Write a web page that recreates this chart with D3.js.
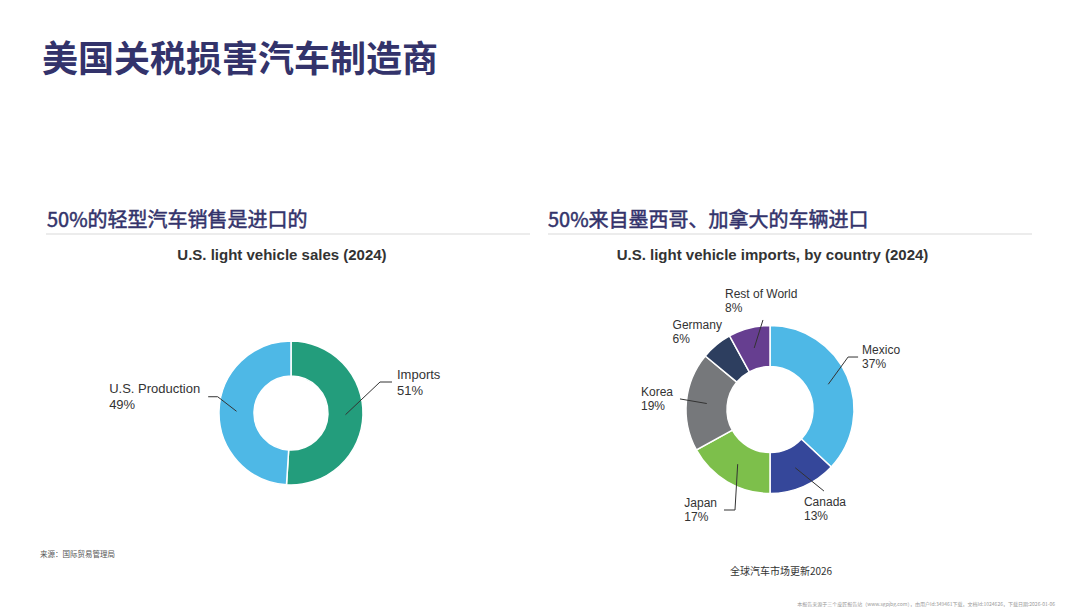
<!DOCTYPE html>
<html>
<head>
<meta charset="utf-8">
<script src="https://cdn.jsdelivr.net/npm/d3@7/dist/d3.min.js"></script>
<style>
  html, body { margin: 0; padding: 0; background: #fff; }
  svg { display: block; }
</style>
</head>
<body>
<svg id="chart" width="1080" height="607"></svg>
<script>
// ---------- data ----------
const salesCategories = ["Imports", "U.S. Production"];
const salesValues = [51, 49];
const salesColors = ["#239d7c", "#4eb8e6"];

const importCategories = ["Mexico", "Canada", "Japan", "Korea", "Germany", "Rest of World"];
const importValues = [37, 13, 17, 19, 6, 8];
const importColors = ["#4eb8e6", "#35479a", "#7dbf4b", "#76787b", "#2d3e5f", "#663e90"];

// label layout (polar elbow relative to slice: angle deg clockwise from top, radius multiple of outer radius)
const salesLabelLayout = {
  "Imports":         { a: 70.8,  r: 1.309, hook: 12,   mode: "right", gap: 5 },
  "U.S. Production": { a: 282.5, r: 1.043, hook: -9.5, mode: "left",  gap: 8 }
};
const importLabelLayout = {
  "Mexico":        { a: 56.1,  r: 1.12,  hook: 10,  mode: "right", gap: 4 },
  "Canada":        { a: 146.5, r: 1.164, hook: 0,   mode: "below", gap: 6, dx: -20 },
  "Japan":         { a: 199.2, r: 1.267, hook: -11, mode: "left",  gap: 7 },
  "Korea":         { a: 276.7, r: 1.079, hook: 0,   mode: "left",  gap: 7 },
  "Germany":       { a: 331.5, r: 1.049, hook: 0,   mode: "left",  gap: 6, noLine: true },
  "Rest of World": { a: 355.5, r: 1.069, hook: 0,   mode: "above", gap: 8, dx: -38 }
};

const svg = d3.select("#chart");
const CJK = "'Noto Sans CJK SC', 'Noto Sans', sans-serif";
const LAT = "'Liberation Sans', Arial, sans-serif";
const NAVY = "#33336b";

// ---------- headings ----------
svg.append("text").attr("x", 42).attr("y", 72)
  .attr("font-family", CJK).attr("font-weight", "bold").attr("font-size", 36)
  .attr("fill", NAVY).text("美国关税损害汽车制造商");

svg.append("text").attr("x", 47).attr("y", 227)
  .attr("font-family", CJK).attr("font-size", 20).attr("fill", NAVY)
  .attr("stroke", NAVY).attr("stroke-width", 0.5)
  .text("50%的轻型汽车销售是进口的");
svg.append("line").attr("x1", 46).attr("x2", 530).attr("y1", 234).attr("y2", 234)
  .attr("stroke", "#d9d9d9").attr("stroke-width", 1);

svg.append("text").attr("x", 548).attr("y", 227)
  .attr("font-family", CJK).attr("font-size", 20).attr("fill", NAVY)
  .attr("stroke", NAVY).attr("stroke-width", 0.5)
  .text("50%来自墨西哥、加拿大的车辆进口");
svg.append("line").attr("x1", 548).attr("x2", 1032).attr("y1", 234).attr("y2", 234)
  .attr("stroke", "#d9d9d9").attr("stroke-width", 1);

svg.append("text").attr("x", 282).attr("y", 260).attr("text-anchor", "middle")
  .attr("font-family", LAT).attr("font-weight", "bold").attr("font-size", 15)
  .attr("fill", "#333").text("U.S. light vehicle sales (2024)");
svg.append("text").attr("x", 772.5).attr("y", 260).attr("text-anchor", "middle")
  .attr("font-family", LAT).attr("font-weight", "bold").attr("font-size", 15)
  .attr("fill", "#333").text("U.S. light vehicle imports, by country (2024)");

// ---------- donut helper ----------
function donut(opts) {
  const { cx, cy, R, r, cats, vals, colors, layout, fs, lh } = opts;
  const g = svg.append("g").attr("transform", `translate(${cx},${cy})`);
  const data = cats.map((c, i) => ({ name: c, value: vals[i], color: colors[i] }));
  const pie = d3.pie().value(d => d.value).sort(null).startAngle(0).endAngle(2 * Math.PI);
  const arc = d3.arc().innerRadius(r).outerRadius(R);
  const arcs = pie(data);

  g.selectAll("path.slice").data(arcs).join("path")
    .attr("class", "slice")
    .attr("d", arc)
    .attr("fill", d => d.data.color)
    .attr("stroke", "#fff").attr("stroke-width", 1.5);

  const polar = (deg, rad) => {
    const t = deg * Math.PI / 180;
    return [rad * Math.sin(t), -rad * Math.cos(t)];
  };

  arcs.forEach(d => {
    const L = layout[d.data.name];
    const c = arc.centroid(d);
    const e = polar(L.a, L.r * R);
    const end = [e[0] + L.hook, e[1]];
    if (!L.noLine) {
      g.append("polyline")
        .attr("points", [c, e, end].map(p => p.join(",")).join(" "))
        .attr("fill", "none").attr("stroke", "#333").attr("stroke-width", 1);
    }
    const lines = [d.data.name, d.data.value + "%"];
    const t = g.append("text").attr("font-family", LAT).attr("font-size", fs).attr("fill", "#333");
    const spans = lines.map(s => t.append("tspan").text(s));
    const w = Math.max(...spans.map(s => s.node().getComputedTextLength()));
    let x0, y1;
    const cap = fs * 0.72;
    if (L.mode === "right") {
      x0 = end[0] + L.gap; y1 = end[1] - lh / 2 + fs * 0.35;
    } else if (L.mode === "left") {
      x0 = end[0] - L.gap - w; y1 = end[1] - lh / 2 + fs * 0.35;
    } else if (L.mode === "below") {
      x0 = end[0] + (L.dx || 0); y1 = end[1] + L.gap + cap;
    } else {
      x0 = end[0] + (L.dx || 0); y1 = end[1] - L.gap - lh;
    }
    spans.forEach((s, i) => s.attr("x", x0).attr("y", y1 + i * lh));
  });
}

donut({ cx: 291, cy: 413, R: 72, r: 37, cats: salesCategories, vals: salesValues,
        colors: salesColors, layout: salesLabelLayout, fs: 13, lh: 16 });
donut({ cx: 770, cy: 409.5, R: 84, r: 43, cats: importCategories, vals: importValues,
        colors: importColors, layout: importLabelLayout, fs: 12, lh: 14 });

// ---------- footers ----------
svg.append("text").attr("x", 40).attr("y", 557)
  .attr("font-family", CJK).attr("font-size", 7.5).attr("fill", "#555")
  .text("来源：国际贸易管理局");
svg.append("text").attr("x", 781).attr("y", 575).attr("text-anchor", "middle")
  .attr("font-family", CJK).attr("font-size", 10).attr("fill", "#333")
  .text("全球汽车市场更新2026");
svg.append("text").attr("x", 1055).attr("y", 606).attr("text-anchor", "end")
  .attr("font-family", CJK).attr("font-size", 5).attr("fill", "#999")
  .text("本报告来源于三个皮匠报告站（www.sgpjbg.com），由用户Id:349461下载，文档Id:1024626，下载日期:2026-01-06");
</script>
</body>
</html>
